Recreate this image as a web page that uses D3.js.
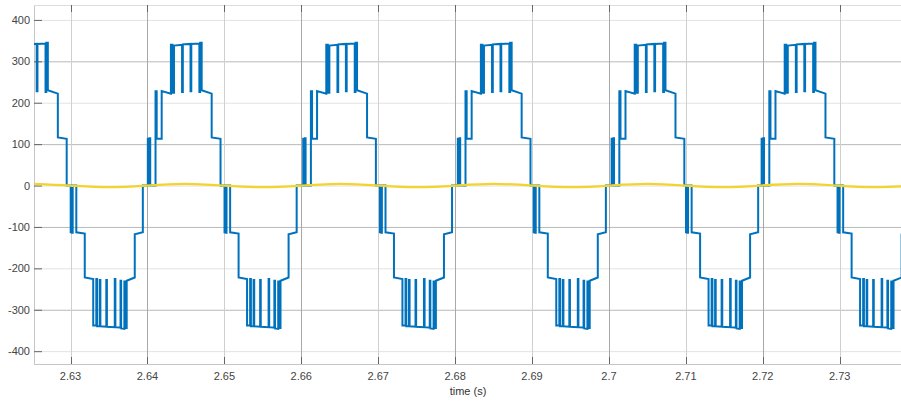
<!DOCTYPE html>
<html>
<head>
<meta charset="utf-8">
<script src="https://cdn.jsdelivr.net/npm/d3@7/dist/d3.min.js"></script>
<style>
  body { margin: 0; background: #fff; }
  text { font-family: "Liberation Sans", Arial, sans-serif; }
</style>
</head>
<body>
<div id="chart"></div>
<script>
// axis ticks
var xTicks = [2.63, 2.64, 2.65, 2.66, 2.67, 2.68, 2.69, 2.70, 2.71, 2.72, 2.73]
var xTickLabels = ["2.63", "2.64", "2.65", "2.66", "2.67", "2.68", "2.69", "2.7", "2.71", "2.72", "2.73"]
var yTicks = [-400, -300, -200, -100, 0, 100, 200, 300, 400]
var yTickLabels = ["-400", "-300", "-200", "-100", "0", "100", "200", "300", "400"]

// zero crossings of each half cycle (s) and its sign
var halfStarts = [2.6199, 2.6299, 2.6399, 2.6499, 2.6601, 2.6701, 2.6802, 2.6901, 2.7002, 2.7099, 2.7197, 2.7296]
var halfSigns = [1, -1, 1, -1, 1, -1, 1, -1, 1, -1, 1, -1]

// switching pattern of one positive half cycle: time from zero crossing (ms), voltage
var posMs = [0, 0.15, 0.15, 0.23, 0.23, 0.38, 0.38, 0.46, 0.46,
    1.15, 1.15, 1.3, 1.3, 1.95, 1.95, 3.15, 3.15, 3.35, 3.35, 3.55, 3.55,
    4.6, 4.6, 4.7, 4.7, 5.7, 5.7, 5.8, 5.8, 6.85, 6.85, 6.95, 6.95, 7.15, 7.15,
    8.45, 8.45, 9.6, 9.6, 10]
var posV = [0, 0, 113, 113, 0, 0, 114, 114, 0,
    0, 228, 228, 113, 113, 228, 222, 340, 340, 224, 224, 338,
    340, 226, 226, 341, 342, 228, 228, 342, 343, 226, 226, 345, 345, 230,
    222, 116, 113, 0, 0]

// switching pattern of one negative half cycle
var negMs = [0, 0.12, 0.12, 0.2, 0.2, 0.3, 0.3, 0.38, 0.38,
    0.85, 0.85, 1.95, 1.95, 3.05, 3.05,
    3.45, 3.45, 3.55, 3.55, 3.9, 3.9, 3.98, 3.98,
    4.75, 4.75, 4.83, 4.83, 5.85, 5.85, 5.93, 5.93,
    6.6, 6.6, 6.68, 6.68, 7.1, 7.1, 7.2, 7.2, 7.4, 7.4,
    8.45, 8.45, 9.5, 9.5, 10]
var negV = [0, 0, -113, -113, 0, 0, -114, -114, 0,
    0, -113, -116, -222, -226, -338,
    -338, -226, -226, -340, -340, -228, -228, -340,
    -341, -228, -228, -341, -342, -226, -226, -342,
    -343, -230, -230, -345, -346, -232, -232, -344, -344, -230,
    -222, -118, -113, 0, 0]

// small yellow signal
var yellowT = [2.6253, 2.6299, 2.6349, 2.6399, 2.6449, 2.6499, 2.6550, 2.6601, 2.6651, 2.6701, 2.6751, 2.6802,
    2.6851, 2.6901, 2.6951, 2.7002, 2.7050, 2.7099, 2.7148, 2.7197, 2.7246, 2.7296, 2.7346, 2.7380]
var yellowV = [4, 0, -4, 0, 4, 0, -4, 0, 4, 0, -4, 0,
    4, 0, -4, 0, 4, 0, -4, 0, 4, 0, -4, -2]

var W = 901, H = 401
var plot = { left: 34, top: 5, right: 901, bottom: 364 }

var svg = d3.select("#chart")
    .append("svg")
    .attr("width", W)
    .attr("height", H)

var x = d3.scaleLinear().domain([2.62525, 2.73797]).range([plot.left, plot.right])
var y = d3.scaleLinear().domain([-431, 436]).range([plot.bottom, plot.top])

// grid
svg.append("g").selectAll("line")
    .data(yTicks)
    .enter().append("line")
    .attr("x1", plot.left).attr("x2", plot.right)
    .attr("y1", d => y(d) + 0.5).attr("y2", d => y(d) + 0.5)
    .attr("stroke", (d, i) => i % 2 == 1 ? "#b9b9b9" : "#e2e2e2")
    .attr("stroke-width", 1)

svg.append("g").selectAll("line")
    .data(xTicks)
    .enter().append("line")
    .attr("x1", d => Math.round(x(d)) + 0.5).attr("x2", d => Math.round(x(d)) + 0.5)
    .attr("y1", plot.top).attr("y2", plot.bottom)
    .attr("stroke", (d, i) => i % 2 == 1 ? "#a8a8a8" : "#cfcfcf")
    .attr("stroke-width", 1)

// box
svg.append("line").attr("x1", plot.left + 0.5).attr("x2", plot.left + 0.5)
    .attr("y1", plot.top).attr("y2", plot.bottom).attr("stroke", "#c6c6c6")
svg.append("line").attr("x1", plot.left).attr("x2", plot.right)
    .attr("y1", plot.bottom + 0.5).attr("y2", plot.bottom + 0.5).attr("stroke", "#c6c6c6")
svg.append("line").attr("x1", plot.left).attr("x2", plot.right)
    .attr("y1", plot.top + 0.5).attr("y2", plot.top + 0.5).attr("stroke", "#dcdcdc")

// tick marks (inside)
svg.append("g").selectAll("line")
    .data(xTicks)
    .enter().append("line")
    .attr("x1", d => Math.round(x(d)) + 0.5).attr("x2", d => Math.round(x(d)) + 0.5)
    .attr("y1", plot.bottom).attr("y2", plot.bottom - 7)
    .attr("stroke", "#666")
svg.append("g").selectAll("line")
    .data(xTicks)
    .enter().append("line")
    .attr("x1", d => Math.round(x(d)) + 0.5).attr("x2", d => Math.round(x(d)) + 0.5)
    .attr("y1", plot.top).attr("y2", plot.top + 7)
    .attr("stroke", "#666")
svg.append("g").selectAll("line")
    .data(yTicks)
    .enter().append("line")
    .attr("x1", plot.left).attr("x2", plot.left + 8)
    .attr("y1", d => y(d) + 0.5).attr("y2", d => y(d) + 0.5)
    .attr("stroke", "#666")

// tick labels
svg.append("g").selectAll("text")
    .data(xTicks)
    .enter().append("text")
    .attr("x", d => x(d))
    .attr("y", 380)
    .attr("text-anchor", "middle")
    .attr("font-size", 11)
    .attr("fill", "#444")
    .text((d, i) => xTickLabels[i])

svg.append("g").selectAll("text")
    .data(yTicks)
    .enter().append("text")
    .attr("x", 30)
    .attr("y", d => y(d) + 4)
    .attr("text-anchor", "end")
    .attr("font-size", 11)
    .attr("fill", "#444")
    .text((d, i) => yTickLabels[i])

svg.append("text")
    .attr("x", 468)
    .attr("y", 395)
    .attr("text-anchor", "middle")
    .attr("font-size", 11)
    .attr("fill", "#333")
    .text("time (s)")

// build the stepped waveform from the half cycle patterns
var wave = []
halfStarts.forEach(function (t0, i) {
    var next = i < halfStarts.length - 1 ? halfStarts[i + 1] : 1e9
    var ms = halfSigns[i] > 0 ? posMs : negMs
    var vs = halfSigns[i] > 0 ? posV : negV
    for (var k = 0; k < ms.length; k++) {
        var t = t0 + ms[k] / 1000
        if (t <= next) wave.push([t, vs[k]])
    }
})

svg.append("clipPath").attr("id", "clip")
    .append("rect")
    .attr("x", plot.left).attr("y", plot.top)
    .attr("width", plot.right - plot.left).attr("height", plot.bottom - plot.top)

var g = svg.append("g").attr("clip-path", "url(#clip)")

var line = d3.line()
    .x(d => x(d[0]))
    .y(d => y(d[1]))

g.append("path")
    .datum(wave)
    .attr("fill", "none")
    .attr("stroke", "#0072BD")
    .attr("stroke-width", 2)
    .attr("stroke-linejoin", "miter")
    .attr("d", line)

var yellow = yellowT.map((t, i) => [t, yellowV[i]])
g.append("path")
    .datum(yellow)
    .attr("fill", "none")
    .attr("stroke", "#F2D42C")
    .attr("stroke-width", 2.2)
    .attr("d", line.curve(d3.curveNatural))
</script>
</body>
</html>
